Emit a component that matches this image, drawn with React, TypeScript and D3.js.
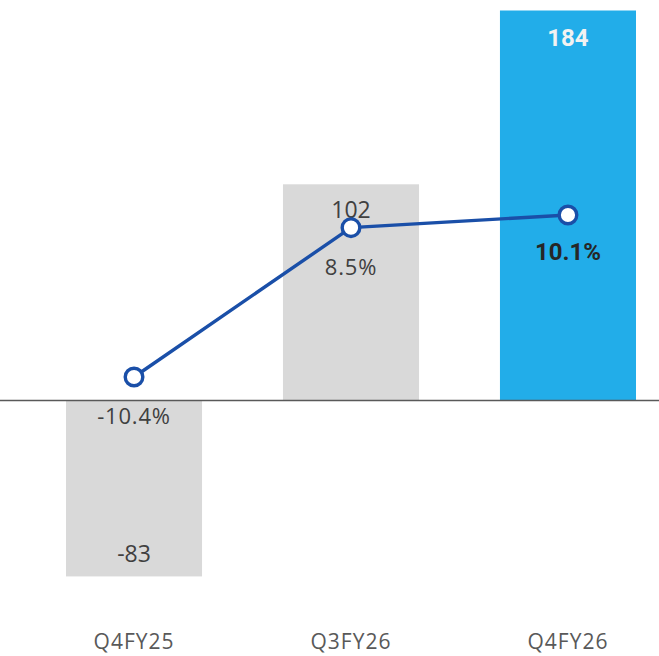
import React from "react";
import * as d3 from "d3";

const categories = ["Q4FY25", "Q3FY26", "Q4FY26"];
const barValues = [-83, 102, 184];
const pctValues = [-10.4, 8.5, 10.1];
const barLabels = ["-83", "102", "184"];
const pctLabels = ["-10.4%", "8.5%", "10.1%"];

const W = 659;
const H = 656;

export default function App() {
  const x = d3.scaleBand<string>().domain(categories).range([66, 636]).paddingInner(0.373).paddingOuter(0);
  const y = d3.scaleLinear().domain([0, 184]).range([400.5, 10.5]);
  const yp = d3.scaleLinear().domain([-10.4, 10.1]).range([377, 215]);
  const line = d3
    .line<number>()
    .x((_, i) => (x(categories[i]) as number) + x.bandwidth() / 2)
    .y((d) => yp(d));
  const font = "'Century Gothic', 'URW Gothic', 'Open Sans', 'DejaVu Sans', sans-serif";
  return (
    <svg width={W} height={H} style={{ position: "absolute", left: 0, top: 0, background: "#fff" }}>
      {barValues.map((v, i) => {
        const bx = x(categories[i]) as number;
        const y0 = y(0);
        const y1 = y(v);
        return (
          <rect
            key={i}
            x={bx}
            y={Math.min(y0, y1)}
            width={x.bandwidth()}
            height={Math.abs(y1 - y0)}
            fill={i === 2 ? "#22ADE9" : "#D9D9D9"}
          />
        );
      })}
      <line x1={0} x2={W} y1={y(0)} y2={y(0)} stroke="#595959" strokeWidth={1.3} />
      {barValues.map((v, i) => {
        const cx = (x(categories[i]) as number) + x.bandwidth() / 2;
        if (i === 2)
          return (
            <text key={i} x={cx} y={y(v) + 35} textAnchor="middle" fontFamily="Roboto, sans-serif" fontWeight={700} fontSize={24} fill="#F2F2F2">
              {barLabels[i]}
            </text>
          );
        const ty = v < 0 ? y(v) - 14 : y(v) + 34;
        return (
          <text key={i} x={cx} y={ty} textAnchor="middle" fontFamily={font} fontSize={23} fill="#404040">
            {barLabels[i]}
          </text>
        );
      })}
      <path d={line(pctValues) || ""} fill="none" stroke="#1A4FA8" strokeWidth={3.4} />
      {pctValues.map((p, i) => {
        const cx = (x(categories[i]) as number) + x.bandwidth() / 2;
        return <circle key={i} cx={cx} cy={yp(p)} r={8.8} fill="#fff" stroke="#1A4FA8" strokeWidth={3.4} />;
      })}
      {pctValues.map((p, i) => {
        const cx = (x(categories[i]) as number) + x.bandwidth() / 2;
        if (i === 2)
          return (
            <text key={i} x={cx} y={yp(p) + 45} textAnchor="middle" fontFamily="Roboto, sans-serif" fontWeight={700} fontSize={24} fill="#262626">
              {pctLabels[i]}
            </text>
          );
        return (
          <text key={i} x={cx} y={yp(p) + 47} textAnchor="middle" fontFamily={font} fontSize={22} fill="#404040" letterSpacing={0.8}>
            {pctLabels[i]}
          </text>
        );
      })}
      {categories.map((c) => (
        <text key={c} x={(x(c) as number) + x.bandwidth() / 2} y={649} textAnchor="middle" fontFamily={font} fontSize={21} fill="#595959" letterSpacing={1}>
          {c}
        </text>
      ))}
    </svg>
  );
}
